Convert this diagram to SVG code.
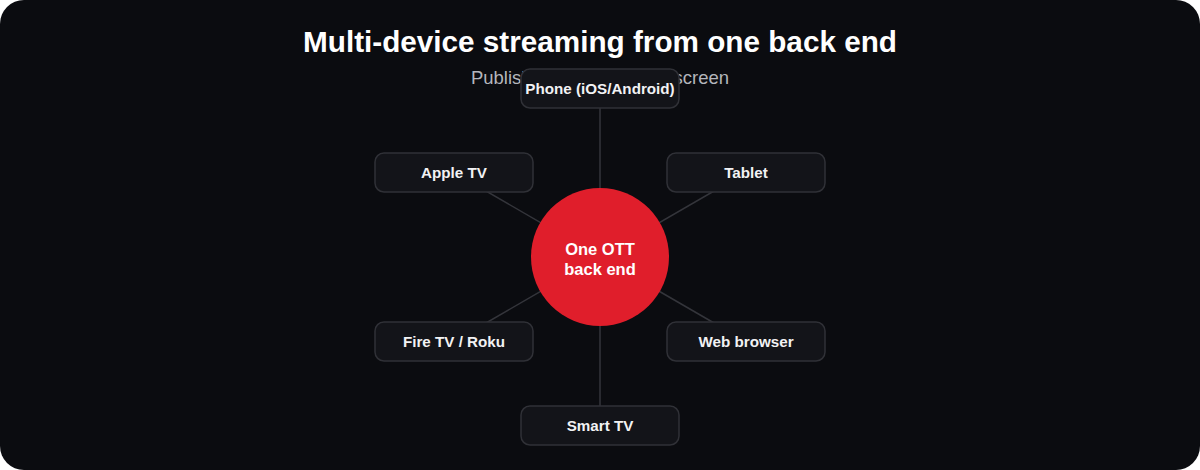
<svg xmlns="http://www.w3.org/2000/svg" width="1200" height="470" viewBox="0 0 1200 470">
<style>
.bg{fill:#0b0c10}
.title{font-family:"Liberation Sans",Arial,sans-serif;font-weight:700;font-size:29.7px;fill:#ffffff;text-anchor:middle}
.sub{font-family:"Liberation Sans",Arial,sans-serif;font-size:18.5px;fill:#b4b6bc;text-anchor:middle}
.box{fill:#131419;stroke:#303137;stroke-width:1.5}
.lbl{font-family:"Liberation Sans",Arial,sans-serif;font-weight:700;font-size:15.2px;fill:#f2f2f4;text-anchor:middle}
.hub{fill:#e01e2b}
.hubt{font-family:"Liberation Sans",Arial,sans-serif;font-weight:700;font-size:16.5px;fill:#ffffff;text-anchor:middle}
.conn{stroke:#34353b;stroke-width:1.5;fill:none}
</style>
<rect class="bg" x="0" y="0" width="1200" height="470" rx="24"/>
<text class="title" x="600" y="52">Multi-device streaming from one back end</text>
<text class="sub" x="600" y="84">Publish once, reach any screen</text>
<g id="connectors">
<line class="conn" x1="600" y1="257" x2="600" y2="88.5"/>
<line class="conn" x1="600" y1="257" x2="454" y2="172.5"/>
<line class="conn" x1="600" y1="257" x2="746" y2="172.5"/>
<line class="conn" x1="600" y1="257" x2="454" y2="341.5"/>
<line class="conn" x1="600" y1="257" x2="746" y2="341.5"/>
<line class="conn" x1="600" y1="257" x2="600" y2="426"/>
</g>
<g id="hub">
<circle class="hub" cx="600" cy="257" r="69"/>
<text class="hubt" x="600" y="255">One OTT</text>
<text class="hubt" x="600" y="275">back end</text>
</g>
<g id="phone">
<rect class="box" x="521" y="69" width="158" height="39" rx="9"/>
<text class="lbl" x="600" y="94">Phone (iOS/Android)</text>
</g>
<g id="apple-tv">
<rect class="box" x="375" y="153" width="158" height="39" rx="9"/>
<text class="lbl" x="454" y="178">Apple TV</text>
</g>
<g id="tablet">
<rect class="box" x="667" y="153" width="158" height="39" rx="9"/>
<text class="lbl" x="746" y="178">Tablet</text>
</g>
<g id="fire-tv">
<rect class="box" x="375" y="322" width="158" height="39" rx="9"/>
<text class="lbl" x="454" y="347">Fire TV / Roku</text>
</g>
<g id="web-browser">
<rect class="box" x="667" y="322" width="158" height="39" rx="9"/>
<text class="lbl" x="746" y="347">Web browser</text>
</g>
<g id="smart-tv">
<rect class="box" x="521" y="406" width="158" height="39" rx="9"/>
<text class="lbl" x="600" y="431">Smart TV</text>
</g>
</svg>
